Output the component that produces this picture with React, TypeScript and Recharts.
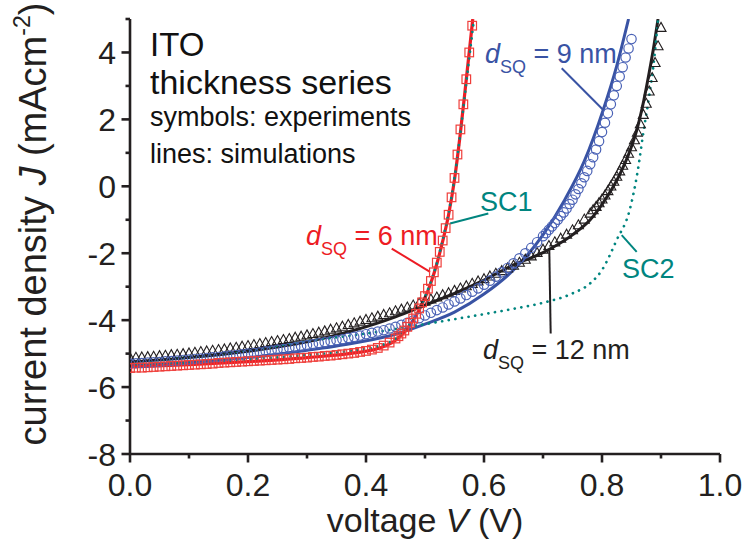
import { ComposedChart, Line, Scatter, XAxis, YAxis, ReferenceLine } from "recharts";

const FONT = "'Liberation Sans', Arial, Helvetica, sans-serif";
const AX = "#231f20";
const RED = "#ed1c24";
const BLUE = "#3953a4";
const BLACK = "#231f20";
const TEAL = "#00857f";

const xTicks = [0, 0.1, 0.2, 0.3, 0.4, 0.5, 0.6, 0.7, 0.8, 0.9, 1.0];
const yTicks = [-8, -7, -6, -5, -4, -3, -2, -1, 0, 1, 2, 3, 4, 5];

// experiments: [V, J]
const expRed6 = [
  [0, -5.43], [0.01, -5.42], [0.02, -5.42], [0.03, -5.41], [0.04, -5.4], [0.05, -5.39], [0.06, -5.38], [0.07, -5.37],
  [0.08, -5.36], [0.09, -5.35], [0.1, -5.34], [0.11, -5.33], [0.12, -5.32], [0.13, -5.31], [0.14, -5.3], [0.15, -5.28],
  [0.16, -5.27], [0.17, -5.26], [0.18, -5.25], [0.19, -5.24], [0.2, -5.23], [0.21, -5.22], [0.22, -5.21], [0.23, -5.2],
  [0.24, -5.19], [0.25, -5.18], [0.26, -5.17], [0.27, -5.16], [0.28, -5.14], [0.29, -5.13], [0.3, -5.12], [0.31, -5.1],
  [0.32, -5.09], [0.33, -5.07], [0.34, -5.06], [0.35, -5.04], [0.36, -5.02], [0.37, -5.0], [0.38, -4.98], [0.39, -4.95],
  [0.4, -4.92], [0.41, -4.88], [0.42, -4.83], [0.43, -4.76], [0.44, -4.67], [0.45, -4.55], [0.455, -4.48], [0.46, -4.4],
  [0.465, -4.31], [0.47, -4.2], [0.475, -4.08], [0.48, -3.95], [0.485, -3.81], [0.49, -3.65], [0.495, -3.47], [0.5, -3.28],
  [0.505, -3.06], [0.51, -2.83], [0.515, -2.57], [0.52, -2.28], [0.525, -1.96], [0.53, -1.62], [0.535, -1.25], [0.54, -0.85],
  [0.545, -0.33], [0.55, 0.25], [0.555, 0.95], [0.56, 1.7], [0.565, 2.45], [0.57, 3.2], [0.575, 4.0], [0.58, 4.8],
];

const expBlue9 = [
  [0, -5.3], [0.01, -5.29], [0.02, -5.28], [0.03, -5.27], [0.04, -5.26], [0.05, -5.25], [0.06, -5.23], [0.07, -5.22],
  [0.08, -5.21], [0.09, -5.19], [0.1, -5.18], [0.11, -5.16], [0.12, -5.15], [0.13, -5.13], [0.14, -5.11], [0.15, -5.1],
  [0.16, -5.08], [0.17, -5.06], [0.18, -5.04], [0.19, -5.02], [0.2, -5.0], [0.21, -4.98], [0.22, -4.96], [0.23, -4.93],
  [0.24, -4.91], [0.25, -4.88], [0.26, -4.86], [0.27, -4.83], [0.28, -4.81], [0.29, -4.78], [0.3, -4.75], [0.31, -4.72],
  [0.32, -4.69], [0.33, -4.66], [0.34, -4.63], [0.35, -4.6], [0.36, -4.57], [0.37, -4.53], [0.38, -4.5], [0.39, -4.46],
  [0.4, -4.42], [0.41, -4.38], [0.42, -4.34], [0.43, -4.3], [0.44, -4.25], [0.45, -4.2], [0.46, -4.14], [0.47, -4.08],
  [0.48, -4.01], [0.49, -3.94], [0.5, -3.86], [0.51, -3.78], [0.52, -3.7], [0.53, -3.62], [0.54, -3.53], [0.55, -3.44],
  [0.56, -3.35], [0.57, -3.25], [0.58, -3.15], [0.59, -3.05], [0.6, -2.94], [0.61, -2.82], [0.62, -2.7], [0.63, -2.57],
  [0.64, -2.44], [0.65, -2.3], [0.66, -2.15], [0.67, -2.0], [0.68, -1.84], [0.69, -1.67], [0.7, -1.49], [0.705, -1.4],
  [0.71, -1.3], [0.715, -1.2], [0.72, -1.1], [0.725, -1.0], [0.73, -0.89], [0.735, -0.78], [0.74, -0.66], [0.745, -0.53],
  [0.75, -0.4], [0.755, -0.24], [0.76, -0.08], [0.765, 0.09], [0.77, 0.27], [0.775, 0.46], [0.78, 0.66], [0.785, 0.87],
  [0.79, 1.1], [0.795, 1.35], [0.8, 1.62], [0.805, 1.9], [0.81, 2.18], [0.815, 2.45], [0.82, 2.72], [0.825, 3.0],
  [0.83, 3.28], [0.835, 3.56], [0.84, 3.85], [0.845, 4.12], [0.85, 4.4],
];

const expBlack12 = [
  [0, -5.12], [0.01, -5.11], [0.02, -5.1], [0.03, -5.09], [0.04, -5.08], [0.05, -5.06], [0.06, -5.05], [0.07, -5.03],
  [0.08, -5.02], [0.09, -5.0], [0.1, -4.98], [0.11, -4.96], [0.12, -4.94], [0.13, -4.92], [0.14, -4.9], [0.15, -4.88],
  [0.16, -4.86], [0.17, -4.83], [0.18, -4.81], [0.19, -4.78], [0.2, -4.76], [0.21, -4.73], [0.22, -4.7], [0.23, -4.67],
  [0.24, -4.64], [0.25, -4.61], [0.26, -4.58], [0.27, -4.55], [0.28, -4.51], [0.29, -4.48], [0.3, -4.44], [0.31, -4.4],
  [0.32, -4.36], [0.33, -4.32], [0.34, -4.27], [0.35, -4.23], [0.36, -4.18], [0.37, -4.13], [0.38, -4.08], [0.39, -4.03],
  [0.4, -3.98], [0.41, -3.93], [0.42, -3.88], [0.43, -3.83], [0.44, -3.78], [0.45, -3.72], [0.46, -3.67], [0.47, -3.61],
  [0.48, -3.55], [0.49, -3.49], [0.5, -3.43], [0.51, -3.37], [0.52, -3.31], [0.53, -3.24], [0.54, -3.18], [0.55, -3.11],
  [0.56, -3.04], [0.57, -2.97], [0.58, -2.9], [0.59, -2.83], [0.6, -2.76], [0.61, -2.68], [0.62, -2.6], [0.63, -2.52],
  [0.64, -2.44], [0.65, -2.36], [0.66, -2.27], [0.67, -2.18], [0.68, -2.08], [0.69, -1.98], [0.7, -1.88], [0.71, -1.77],
  [0.72, -1.66], [0.73, -1.55], [0.74, -1.43], [0.75, -1.3], [0.76, -1.15], [0.77, -0.98], [0.78, -0.8], [0.785, -0.7],
  [0.79, -0.6], [0.795, -0.49], [0.8, -0.38], [0.805, -0.26], [0.81, -0.13], [0.815, 0.01], [0.82, 0.15], [0.825, 0.3],
  [0.83, 0.46], [0.835, 0.63], [0.84, 0.8], [0.845, 0.99], [0.85, 1.18], [0.855, 1.39], [0.86, 1.62], [0.865, 1.87],
  [0.87, 2.15], [0.875, 2.48], [0.88, 2.85], [0.885, 3.25], [0.89, 3.7], [0.895, 4.2], [0.9, 4.75],
];

// simulations: [V, J]
const simRed6 = [
  [0, -5.4], [0.1, -5.33], [0.2, -5.24], [0.3, -5.12], [0.38, -4.98], [0.42, -4.85], [0.45, -4.6], [0.47, -4.25],
  [0.49, -3.7], [0.5, -3.33], [0.51, -2.88], [0.52, -2.32], [0.53, -1.64], [0.54, -0.85], [0.55, 0.2], [0.56, 1.6],
  [0.57, 3.2], [0.581, 5.0],
];
const simBlue9 = [
  [0, -5.36], [0.1, -5.26], [0.2, -5.12], [0.3, -4.9], [0.38, -4.68], [0.45, -4.42], [0.5, -4.12], [0.55, -3.76],
  [0.6, -3.22], [0.65, -2.5], [0.7, -1.45], [0.737, -0.4], [0.77, 0.75], [0.802, 2.28], [0.825, 3.6], [0.845, 5.0],
];
const simBlack12 = [
  [0, -5.25], [0.1, -5.12], [0.2, -4.93], [0.3, -4.65], [0.38, -4.3], [0.45, -3.9], [0.5, -3.55], [0.55, -3.2],
  [0.6, -2.8], [0.65, -2.35], [0.7, -1.98], [0.75, -1.45], [0.78, -1.0], [0.805, -0.41], [0.83, 0.35], [0.848, 1.09],
  [0.86, 1.75], [0.871, 2.58], [0.88, 3.4], [0.888, 4.2], [0.895, 5.0],
];
const simSC1 = [
  [0, -5.33], [0.1, -5.26], [0.2, -5.17], [0.3, -5.04], [0.38, -4.9], [0.42, -4.78], [0.45, -4.55], [0.47, -4.2],
  [0.49, -3.68], [0.5, -3.3], [0.51, -2.85], [0.52, -2.3], [0.53, -1.6], [0.54, -0.8], [0.55, 0.25], [0.56, 1.6],
  [0.57, 3.1], [0.583, 5.0],
];
const simSC2 = [
  [0, -5.27], [0.1, -5.1], [0.2, -4.9], [0.3, -4.63], [0.4, -4.4], [0.5, -4.12], [0.55, -3.97], [0.6, -3.82],
  [0.65, -3.66], [0.7, -3.48], [0.75, -3.2], [0.78, -2.9], [0.8, -2.5], [0.825, -1.6], [0.847, -0.7], [0.86, 0.4],
  [0.87, 1.59], [0.88, 2.7], [0.887, 3.58], [0.895, 5.0],
];

// leader lines for the labels, in data units
const leaders = [
  { from: [0.4436, -1.86], to: [0.5085, -2.56], color: RED },
  { from: [0.7317, 3.53], to: [0.8022, 2.28], color: BLUE },
  { from: [0.6073, -0.81], to: [0.5424, -1.11], color: TEAL },
  { from: [0.8334, -1.46], to: [0.8588, -1.96], color: TEAL },
  { from: [0.7107, -1.91], to: [0.713, -4.4], color: BLACK },
];

const toPts = (arr: number[][]) => arr.map(([v, j]) => ({ v, j }));

function XTick({ x, y, payload, side }: any) {
  const v = payload.value;
  const major = Math.round(v * 10) % 2 === 0;
  const len = major ? 8.5 : 4.5;
  const dir = side === "top" ? -1 : 1;
  return (
    <g>
      <line x1={x} x2={x} y1={y} y2={y + dir * len} stroke={AX} strokeWidth={2.6} />
      {side === "bottom" && major && (
        <text x={x} y={y + 42} textAnchor="middle" fontSize={32} fill={AX} fontFamily={FONT}>
          {v.toFixed(1)}
        </text>
      )}
    </g>
  );
}

function YTick({ x, y, payload, side }: any) {
  const v = payload.value;
  const major = v % 2 === 0;
  const len = major ? 8.5 : 4.5;
  const dir = side === "left" ? -1 : 1;
  return (
    <g>
      <line x1={x} x2={x + dir * len} y1={y} y2={y} stroke={AX} strokeWidth={2.6} />
      {side === "left" && major && (
        <text x={x - 14} y={y} dy="0.36em" textAnchor="end" fontSize={32} fill={AX} fontFamily={FONT}>
          {String(v)}
        </text>
      )}
    </g>
  );
}

const Square = ({ cx, cy }: any) => (
  <rect x={cx - 4.3} y={cy - 4.3} width={8.6} height={8.6} fill="none" stroke="#ef3e3a" strokeWidth={1.2} />
);
const Circ = ({ cx, cy }: any) => <circle cx={cx} cy={cy} r={4.7} fill="none" stroke="#4a62b6" strokeWidth={1.2} />;
const Tri = ({ cx, cy }: any) => (
  <path d={`M${cx},${cy - 5}L${cx + 5},${cy + 4}L${cx - 5},${cy + 4}Z`} fill="none" stroke={BLACK} strokeWidth={1.1} />
);

function Dsq({ x, y, color, rest }: { x: number; y: number; color: string; rest: string }) {
  return (
    <text x={x} y={y} fontSize={27} fill={color} fontFamily={FONT}>
      <tspan fontStyle="italic">d</tspan>
      <tspan fontSize={18} dy={10}>SQ</tspan>
      <tspan dy={-10}>{rest}</tspan>
    </text>
  );
}

export default function App() {
  const dotted = { strokeDasharray: "0.1 6.6", strokeLinecap: "round" as const, strokeWidth: 2.7 };
  return (
    <div style={{ position: "absolute", left: 0, top: 0, width: 746, height: 542, background: "#fff" }}>
      <ComposedChart width={746} height={542} margin={{ top: 19, right: 26, bottom: 0, left: 0 }}>
        <XAxis dataKey="v" type="number" domain={[0, 1]} ticks={xTicks} interval={0} allowDataOverflow
          height={88} tickSize={0} tickMargin={0} axisLine={{ stroke: AX, strokeWidth: 2.6 }} tickLine={false}
          tick={<XTick side="bottom" />} />
        <XAxis xAxisId="top" orientation="top" dataKey="v" type="number" domain={[0, 1]} ticks={xTicks} interval={0}
          height={0} tickSize={0} tickMargin={0} axisLine={{ stroke: AX, strokeWidth: 2.6 }} tickLine={false}
          tick={<XTick side="top" />} />
        <YAxis dataKey="j" type="number" domain={[-8, 5]} ticks={yTicks} interval={0} allowDataOverflow
          width={130} tickSize={0} tickMargin={0} axisLine={{ stroke: AX, strokeWidth: 2.6 }} tickLine={false}
          tick={<YTick side="left" />} />
        <YAxis yAxisId="right" orientation="right" dataKey="j" type="number" domain={[-8, 5]} ticks={yTicks} interval={0}
          width={0} tickSize={0} tickMargin={0} axisLine={{ stroke: AX, strokeWidth: 2.6 }} tickLine={false}
          tick={<YTick side="right" />} />

        <Scatter data={toPts(expBlack12)} dataKey="j" shape={<Tri />} isAnimationActive={false} />
        <Scatter data={toPts(expBlue9)} dataKey="j" shape={<Circ />} isAnimationActive={false} />
        <Scatter data={toPts(expRed6)} dataKey="j" shape={<Square />} isAnimationActive={false} />

        <Line data={toPts(simBlack12)} dataKey="j" type="monotone" stroke={BLACK} strokeWidth={3} dot={false} isAnimationActive={false} />
        <Line data={toPts(simBlue9)} dataKey="j" type="monotone" stroke={BLUE} strokeWidth={3} dot={false} isAnimationActive={false} />
        <Line data={toPts(simRed6)} dataKey="j" type="monotone" stroke={RED} strokeWidth={3.2} dot={false} isAnimationActive={false} />
        <Line data={toPts(simSC2)} dataKey="j" type="monotone" stroke={TEAL} {...dotted} dot={false} isAnimationActive={false} />
        <Line data={toPts(simSC1)} dataKey="j" type="monotone" stroke={TEAL} {...dotted} dot={false} isAnimationActive={false} />

        {leaders.map((l, i) => (
          <ReferenceLine key={i} segment={[{ x: l.from[0], y: l.from[1] }, { x: l.to[0], y: l.to[1] }]}
            stroke={l.color} strokeWidth={2} ifOverflow="visible" />
        ))}
      </ComposedChart>

      <svg width={746} height={542} style={{ position: "absolute", left: 0, top: 0, pointerEvents: "none" }}>
        <g fontFamily={FONT} fill="#111">
          <text x={150} y={56} fontSize={33}>ITO</text>
          <text x={150} y={94} fontSize={34}>thickness series</text>
          <text x={150} y={126} fontSize={27}>symbols: experiments</text>
          <text x={150} y={163} fontSize={27}>lines: simulations</text>
        </g>
        <Dsq x={485} y={63} color={BLUE} rest=" = 9 nm" />
        <Dsq x={306} y={245} color={RED} rest=" = 6 nm" />
        <Dsq x={483} y={359} color={BLACK} rest=" = 12 nm" />
        <text x={480} y={211} fontSize={27} fill={TEAL} fontFamily={FONT}>SC1</text>
        <text x={622} y={278} fontSize={27} fill={TEAL} fontFamily={FONT}>SC2</text>

        <text x={425} y={532} textAnchor="middle" fontSize={34} fill={AX} fontFamily={FONT}>
          voltage <tspan fontStyle="italic">V</tspan> (V)
        </text>
        <text transform="translate(46, 224) rotate(-90)" textAnchor="middle" fontSize={38} fill={AX} fontFamily={FONT}>
          current density <tspan fontStyle="italic">J</tspan> (mAcm
          <tspan fontSize={23} dy={-16}>-2</tspan>
          <tspan dy={16}>)</tspan>
        </text>
      </svg>
    </div>
  );
}
